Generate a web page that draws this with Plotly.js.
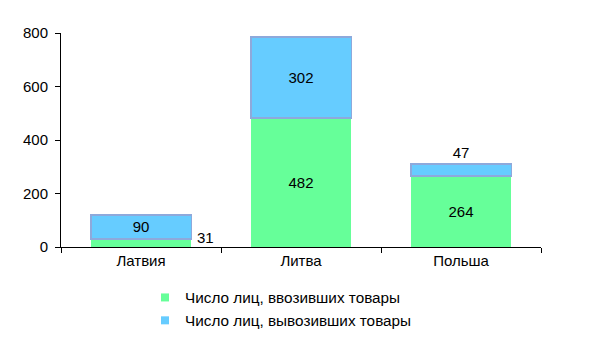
<!DOCTYPE html>
<html>
<head>
<meta charset="utf-8">
<script src="https://cdn.plot.ly/plotly-3.0.1.min.js"></script>
<style>html,body{margin:0;padding:0;background:#fff;}#chart{width:594px;height:340px;}</style>
</head>
<body>
<div id="chart"></div>
<script>
const categories = ['Латвия', 'Литва', 'Польша'];
const importers = [31, 482, 264];
const exporters = [90, 302, 47];
const seriesNames = ['Число лиц, ввозивших товары', 'Число лиц, вывозивших товары'];
const seriesColors = ['#66FF99', '#66CCFF'];
const yTicks = [0, 200, 400, 600, 800];

const font = {family: 'Liberation Sans, Arial, sans-serif', size: 15, color: '#000'};
const legendFont = {family: 'Liberation Sans, Arial, sans-serif', size: 15.3, color: '#000'};

const traces = [
  {
    type: 'bar', x: categories, y: importers, name: seriesNames[0], showlegend: false,
    marker: {color: seriesColors[0], line: {width: 0}},
    text: importers.map(String),
    textposition: ['none', 'inside', 'inside'],
    insidetextanchor: 'middle', textangle: 0,
    textfont: font, insidetextfont: font,
    hoverinfo: 'none', width: 0.63
  },
  {
    type: 'bar', x: categories, y: exporters, name: seriesNames[1], showlegend: false,
    marker: {color: seriesColors[1], line: {color: '#8EA9DB', width: 1.8}},
    text: exporters.map(String),
    textposition: ['inside', 'inside', 'outside'],
    insidetextanchor: 'middle', textangle: 0,
    textfont: font, insidetextfont: font, outsidetextfont: font,
    cliponaxis: false,
    hoverinfo: 'none', width: 0.63
  }
];
// legend entries (no marks drawn)
seriesNames.forEach((name, i) => {
  traces.push({
    type: 'scatter', mode: 'markers', x: [null], y: [null], name: name,
    marker: {symbol: 'square', size: 8, color: seriesColors[i], line: {width: 0}},
    hoverinfo: 'none', showlegend: true
  });
});

const layout = {
  width: 594, height: 340,
  margin: {l: 61, r: 53, t: 33, b: 93, autoexpand: false},
  barmode: 'stack',
  paper_bgcolor: '#fff', plot_bgcolor: '#fff',
  font: font,
  showlegend: true,
  legend: {
    orientation: 'v', x: (145 - 61) / 480, xref: 'paper', xanchor: 'left',
    y: 1 - 281 / 340, yref: 'container', yanchor: 'top',
    font: legendFont, traceorder: 'normal', itemwidth: 30, tracegroupgap: 0,
    bgcolor: 'rgba(0,0,0,0)'
  },
  xaxis: {
    type: 'category', showline: true, linecolor: '#000', linewidth: 1,
    ticks: 'outside', tickson: 'boundaries', ticklen: 5, tickcolor: '#000',
    showgrid: false, zeroline: false, tickfont: font, tickangle: 0, fixedrange: true
  },
  yaxis: {
    range: [0, 800], tickvals: yTicks, ticktext: yTicks.map(String),
    showline: true, linecolor: '#000', linewidth: 1,
    ticks: 'outside', ticklen: 5, tickcolor: '#000', ticklabelstandoff: 4,
    showgrid: false, zeroline: false, tickfont: font, fixedrange: true
  },
  annotations: [{
    x: categories[0], y: importers[0], xref: 'x', yref: 'y',
    text: String(importers[0]), showarrow: false,
    xanchor: 'center', yanchor: 'middle', xshift: 64, yshift: 1, font: font
  }]
};

Plotly.newPlot('chart', traces, layout, {staticPlot: true, displayModeBar: false});
</script>
</body>
</html>
